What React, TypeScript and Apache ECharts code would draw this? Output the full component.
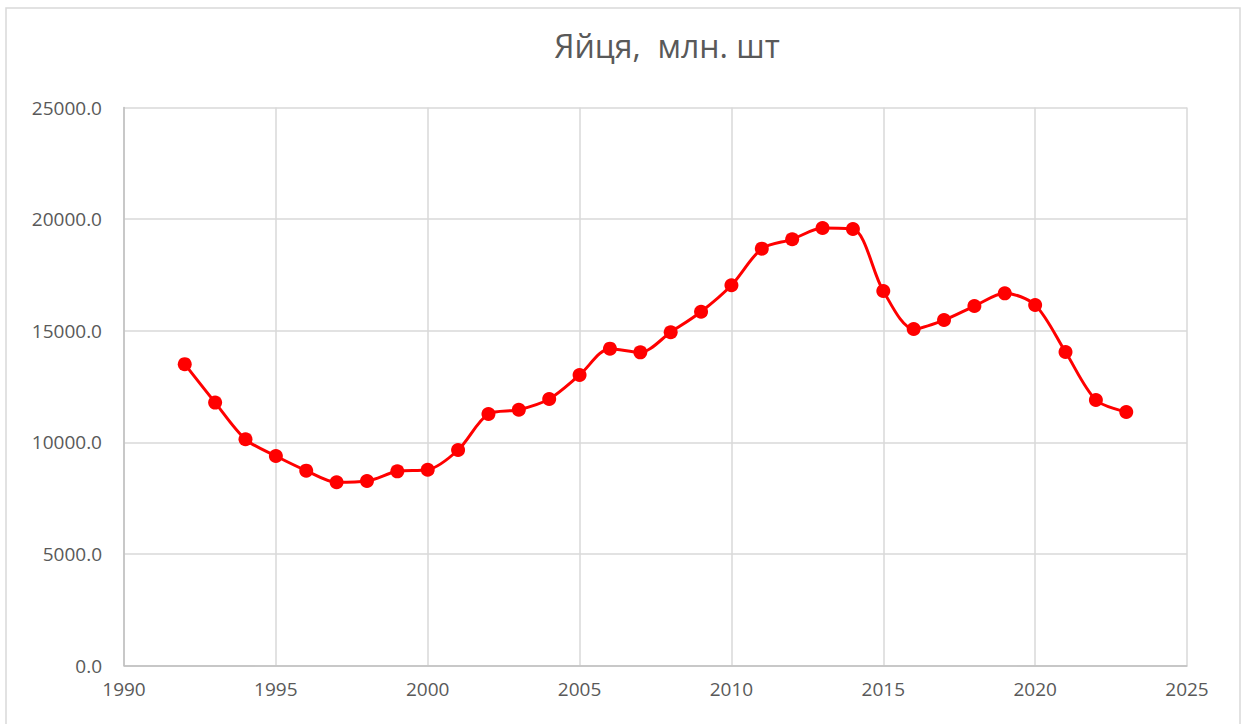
import React, { useEffect, useRef } from "react";
import * as echarts from "echarts";

const years = [1992, 1993, 1994, 1995, 1996, 1997, 1998, 1999, 2000, 2001, 2002, 2003, 2004, 2005, 2006, 2007, 2008, 2009, 2010, 2011, 2012, 2013, 2014, 2015, 2016, 2017, 2018, 2019, 2020, 2021, 2022, 2023];
const eggs = [13500, 11780, 10135, 9385, 8730, 8210, 8265, 8700, 8770, 9655, 11270, 11460, 11940, 13015, 14195, 14030, 14930, 15850, 17035, 18675, 19095, 19600, 19555, 16780, 15075, 15480, 16105, 16675, 16150, 14045, 11895, 11360];
const titleText = "Яйця,  млн. шт";

export default function App() {
  const ref = useRef<HTMLDivElement>(null);
  useEffect(() => {
    if (!ref.current) return;
    const chart = echarts.init(ref.current, null, { renderer: "svg" });
    const font = "'Open Sans', 'Noto Sans', sans-serif";
    chart.setOption({
      animation: false,
      backgroundColor: "#ffffff",
      title: {
        text: titleText,
        left: 662,
        top: 24,
        textAlign: "center",
        textStyle: { fontFamily: font, fontSize: 32, fontWeight: "normal", color: "#595959" },
      },
      graphic: [
        {
          type: "rect",
          shape: { x: 6, y: 8, width: 1234, height: 740 },
          style: { fill: "none", stroke: "#d9d9d9", lineWidth: 1.5 },
          silent: true,
        },
      ],
      grid: { left: 124, right: 58, top: 107.5, bottom: 58.5, containLabel: false },
      xAxis: {
        type: "value",
        min: 1990,
        max: 2025,
        interval: 5,
        axisLine: { show: true, lineStyle: { color: "#bfbfbf", width: 1.5 } },
        axisTick: { show: false },
        axisLabel: {
          fontFamily: font,
          fontSize: 19,
          color: "#595959",
          margin: 14,
          formatter: (v: number) => String(v),
        },
        splitLine: { show: true, lineStyle: { color: "#d9d9d9", width: 1.5 } },
      },
      yAxis: {
        type: "value",
        min: 0,
        max: 25000,
        interval: 5000,
        axisLine: { show: true, lineStyle: { color: "#bfbfbf", width: 1.5 } },
        axisTick: { show: false },
        axisLabel: {
          fontFamily: font,
          fontSize: 19,
          color: "#595959",
          margin: 22,
          formatter: (v: number) => v.toFixed(1),
        },
        splitLine: { show: true, lineStyle: { color: "#d9d9d9", width: 1.5 } },
      },
      series: [
        {
          type: "line",
          data: years.map((y, i) => [y, eggs[i]]),
          smooth: 0.3,
          symbol: "circle",
          symbolSize: 14,
          lineStyle: { color: "#ff0000", width: 3 },
          itemStyle: { color: "#ff0000" },
        },
      ],
    });
    return () => chart.dispose();
  }, []);
  return (
    <div
      ref={ref}
      style={{ position: "absolute", left: 0, top: 0, width: 1245, height: 724 }}
    />
  );
}
